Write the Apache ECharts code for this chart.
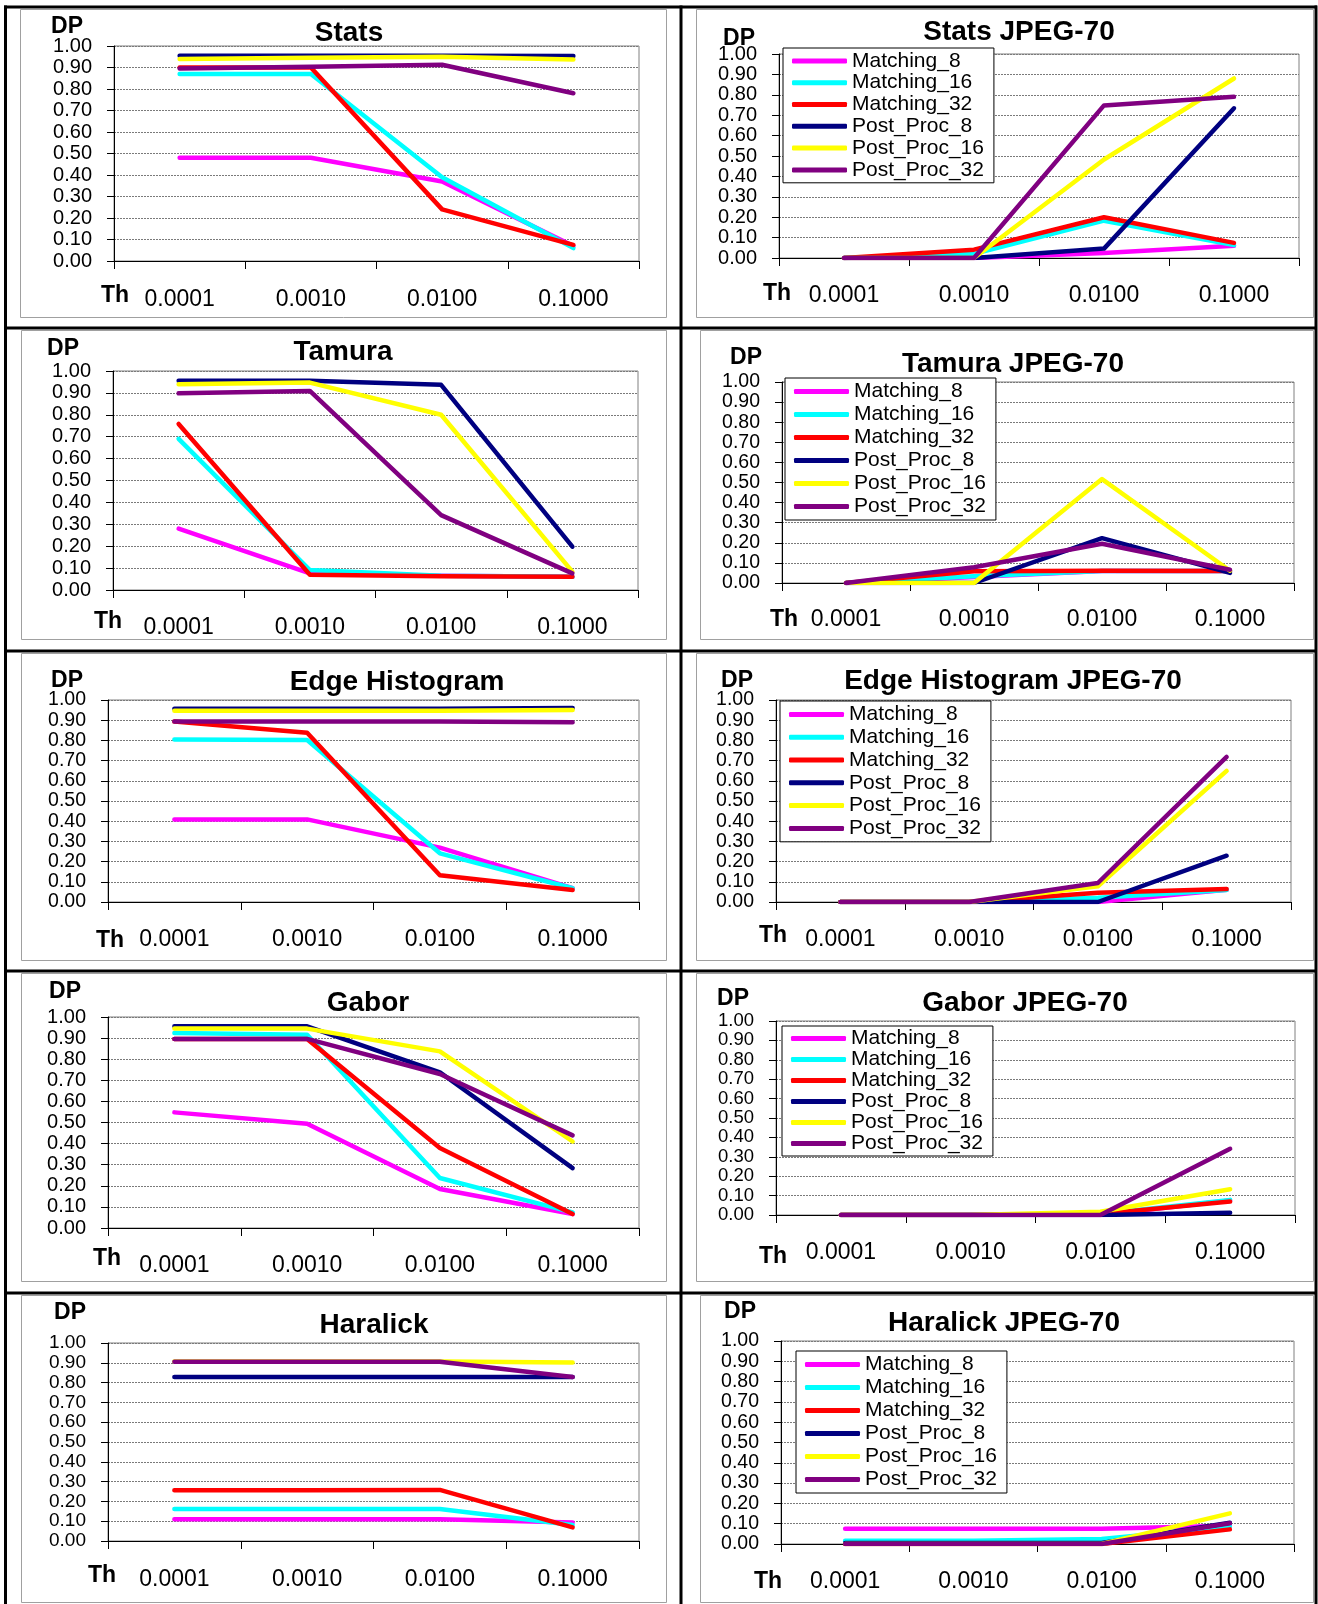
<!DOCTYPE html>
<html>
<head>
<meta charset="utf-8">
<script src="https://cdn.jsdelivr.net/npm/echarts@6/dist/echarts.min.js"></script>
<style>
html,body{margin:0;padding:0;background:#fff;}
#chart{width:1318px;height:1604px;}
</style>
</head>
<body>
<div id="chart"></div>
<script>
// ---------- DATA ----------
const categories = ['0.0001', '0.0010', '0.0100', '0.1000'];
const seriesNames = ['Matching_8', 'Matching_16', 'Matching_32', 'Post_Proc_8', 'Post_Proc_16', 'Post_Proc_32'];
const panelTitles = ['Stats', 'Stats JPEG-70', 'Tamura', 'Tamura JPEG-70', 'Edge Histogram',
  'Edge Histogram JPEG-70', 'Gabor', 'Gabor JPEG-70', 'Haralick', 'Haralick JPEG-70'];
const yTicks = [0, 0.1, 0.2, 0.3, 0.4, 0.5, 0.6, 0.7, 0.8, 0.9, 1.0];

// rows: Matching_8, Matching_16, Matching_32, Post_Proc_8, Post_Proc_16, Post_Proc_32
const statsValues = [
  [0.48, 0.48, 0.37, 0.07],
  [0.87, 0.87, 0.39, 0.06],
  [0.90, 0.90, 0.24, 0.075],
  [0.955, 0.955, 0.955, 0.953],
  [0.94, 0.945, 0.95, 0.937],
  [0.895, 0.903, 0.913, 0.78]
];
const statsJpegValues = [
  [0, 0, 0.025, 0.06],
  [0, 0.02, 0.183, 0.063],
  [0, 0.041, 0.20, 0.074],
  [0, 0, 0.046, 0.734],
  [0, 0, 0.483, 0.88],
  [0, 0, 0.748, 0.79]
];
const tamuraValues = [
  [0.28, 0.076, 0.065, 0.06],
  [0.69, 0.091, 0.065, 0.06],
  [0.758, 0.07, 0.063, 0.061],
  [0.955, 0.955, 0.937, 0.198],
  [0.94, 0.947, 0.80, 0.084],
  [0.898, 0.909, 0.342, 0.076]
];
const tamuraJpegValues = [
  [0, 0.03, 0.06, 0.06],
  [0, 0.033, 0.06, 0.06],
  [0, 0.058, 0.061, 0.06],
  [0, 0, 0.223, 0.05],
  [0, 0, 0.517, 0.061],
  [0, 0.078, 0.195, 0.066]
];
const edgeValues = [
  [0.409, 0.409, 0.269, 0.068],
  [0.805, 0.802, 0.241, 0.068],
  [0.893, 0.838, 0.132, 0.059],
  [0.957, 0.957, 0.957, 0.96],
  [0.947, 0.947, 0.947, 0.95],
  [0.894, 0.894, 0.894, 0.89]
];
const edgeJpegValues = [
  [0, 0, 0, 0.06],
  [0, 0, 0.021, 0.06],
  [0, 0, 0.046, 0.064],
  [0, 0, 0, 0.229],
  [0, 0, 0.078, 0.649],
  [0, 0, 0.094, 0.718]
];
const gaborValues = [
  [0.548, 0.494, 0.185, 0.066],
  [0.924, 0.916, 0.237, 0.074],
  [0.896, 0.896, 0.379, 0.066],
  [0.956, 0.956, 0.738, 0.284],
  [0.945, 0.945, 0.837, 0.41],
  [0.896, 0.896, 0.73, 0.439]
];
const gaborJpegValues = [
  [0, 0, 0, 0.075],
  [0, 0, 0.005, 0.078],
  [0, 0, 0.005, 0.069],
  [0, 0, 0, 0.012],
  [0, 0, 0.017, 0.133],
  [0, 0, 0, 0.341]
];
const haralickValues = [
  [0.11, 0.11, 0.11, 0.094],
  [0.162, 0.162, 0.162, 0.081],
  [0.256, 0.256, 0.258, 0.069],
  [0.828, 0.828, 0.828, 0.828],
  [0.907, 0.907, 0.907, 0.902],
  [0.905, 0.905, 0.905, 0.828]
];
const haralickJpegValues = [
  [0.075, 0.075, 0.075, 0.09],
  [0.016, 0.016, 0.025, 0.085],
  [0, 0, 0, 0.072],
  [0.005, 0.005, 0.005, 0.105],
  [0, 0, 0, 0.151],
  [0, 0, 0, 0.102]
];
const panelValues = [statsValues, statsJpegValues, tamuraValues, tamuraJpegValues, edgeValues,
  edgeJpegValues, gaborValues, gaborJpegValues, haralickValues, haralickJpegValues];

// ---------- STYLE / LAYOUT ----------
const seriesColors = ['#FF00FF', '#00FFFF', '#FF0000', '#000080', '#FFFF00', '#800080'];
const FONT = "'Liberation Sans', Arial, sans-serif";

// plot: [left, top, right, bottom]; title/dp/th: centre points; labelY: x-label centre y; legend: [left, top, lineHeight]
const layout = [
  {box:[20,9,666,317],   plot:[114,46,639,261],   title:[349,33],   dp:[67,27],    th:[115,296],  labelY:300,  legend:null},
  {box:[696,9,1313,317], plot:[779,54,1299,258],  title:[1019,32],  dp:[739,39],   th:[777,294],  labelY:296,  legend:[783,48,21.8]},
  {box:[21,330,666,639], plot:[113,371,638,590],  title:[343,352],  dp:[63,349],   th:[108,622],  labelY:628,  legend:null},
  {box:[700,330,1313,639], plot:[782,382,1294,583], title:[1013,364], dp:[746,358],  th:[784,620],  labelY:620,  legend:[785,378,23]},
  {box:[21,653,666,960], plot:[108,700,639,902],  title:[397,682],  dp:[67,681],   th:[110,941],  labelY:940,  legend:null},
  {box:[696,653,1313,960], plot:[776,700,1291,902], title:[1013,681], dp:[737,681],  th:[773,936],  labelY:940,  legend:[780,701,22.8]},
  {box:[21,973,666,1281], plot:[108,1017,639,1228], title:[368,1003], dp:[65,992],   th:[107,1259], labelY:1266, legend:null},
  {box:[696,973,1313,1281], plot:[776,1021,1295,1215], title:[1025,1003], dp:[733,999], th:[773,1257], labelY:1253, legend:[782,1026,21]},
  {box:[21,1295,666,1602], plot:[108,1343,639,1541], title:[374,1325], dp:[70,1313],  th:[102,1576], labelY:1580, legend:null},
  {box:[700,1295,1313,1602], plot:[781,1341,1294,1544], title:[1004,1323], dp:[740,1312], th:[768,1582], labelY:1582, legend:[796,1351,23]}
];

// ---------- BUILD OPTION ----------
const grids = [], xAxes = [], yAxes = [], series = [], legends = [], graphics = [];

// table borders (black)
const hLines = [7, 328, 651, 971, 1293];
hLines.forEach(y => graphics.push({type:'rect', shape:{x:4, y:y-1.5, width:1313, height:3}, style:{fill:'#000'}, z:100}));
[5.5, 681, 1316].forEach(x => graphics.push({type:'rect', shape:{x:x-1.5, y:5.5, width:3, height:1600}, style:{fill:'#000'}, z:100}));

layout.forEach((p, i) => {
  const [l, t, r, b] = p.plot;
  const tickSpacing = (b - t) / (yTicks.length - 1);
  const yFont = tickSpacing >= 20.4 ? 20 : Math.floor(tickSpacing * 2) / 2 - 0.5;
  grids.push({left:l, top:t, width:r-l, height:b-t, show:true, borderColor:'#808080', borderWidth:1, backgroundColor:'transparent'});
  xAxes.push({
    type:'category', gridIndex:i, data:categories, boundaryGap:true,
    axisLine:{show:true, lineStyle:{color:'#000', width:1}},
    axisTick:{show:true, length:8, lineStyle:{color:'#000'}},
    axisLabel:{fontSize:23, color:'#000', fontFamily:FONT, margin:p.labelY - b - 12, interval:0, hideOverlap:false},
    splitLine:{show:false}
  });
  yAxes.push({
    type:'value', gridIndex:i, min:yTicks[0], max:yTicks[yTicks.length-1], interval:0.1,
    axisLine:{show:true, lineStyle:{color:'#000', width:1}},
    axisTick:{show:true, length:7, lineStyle:{color:'#000'}},
    axisLabel:{fontSize:yFont, color:'#000', fontFamily:FONT, margin:22,
      showMinLabel:true, showMaxLabel:true, hideOverlap:false, formatter:v => v.toFixed(2)},
    splitLine:{show:true, lineStyle:{color:'#7a7a7a', width:1, type:[2,1]}}
  });
  panelValues[i].forEach((vals, s) => {
    series.push({
      type:'line', name:seriesNames[s], xAxisIndex:i, yAxisIndex:i, data:vals,
      symbol:'none', showSymbol:false, animation:false, silent:true,
      lineStyle:{width:4.5, color:seriesColors[s], cap:'round', join:'round'},
      itemStyle:{color:seriesColors[s]}, z:2
    });
  });
  if (p.legend) {
    legends.push({
      orient:'vertical', left:p.legend[0], top:p.legend[1], data:seriesNames,
      icon:'roundRect', itemWidth:55, itemHeight:5, itemGap:0,
      padding:[2,10,2,9], borderColor:'#000', borderWidth:1, backgroundColor:'#fff',
      selectedMode:false, z:10,
      textStyle:{fontSize:21, color:'#000', fontFamily:FONT, lineHeight:p.legend[2]}
    });
  }
  // chart area border (grey)
  graphics.push({type:'rect', shape:{x:p.box[0]+0.5, y:p.box[1]+0.5, width:p.box[2]-p.box[0], height:p.box[3]-p.box[1]},
    style:{fill:'none', stroke:'#a0a0a0', lineWidth:1}, z:0});
  // title, DP, Th
  graphics.push({type:'text', x:p.title[0], y:p.title[1], z:20,
    style:{text:panelTitles[i], fill:'#000', font:"bold 28px " + FONT, textAlign:'center', textVerticalAlign:'middle', align:'center', verticalAlign:'middle'}});
  graphics.push({type:'text', x:p.dp[0], y:p.dp[1], z:20,
    style:{text:'DP', fill:'#000', font:"bold 23px " + FONT, textAlign:'center', textVerticalAlign:'middle', align:'center', verticalAlign:'middle'}});
  graphics.push({type:'text', x:p.th[0], y:p.th[1], z:20,
    style:{text:'Th', fill:'#000', font:"bold 23px " + FONT, textAlign:'center', textVerticalAlign:'middle', align:'center', verticalAlign:'middle'}});
});

const chart = echarts.init(document.getElementById('chart'), null, {renderer:'canvas'});
chart.setOption({
  backgroundColor:'#fff',
  animation:false,
  textStyle:{fontFamily:FONT},
  grid:grids, xAxis:xAxes, yAxis:yAxes, series:series, legend:legends,
  graphic:{elements:graphics}
});
</script>
</body>
</html>
